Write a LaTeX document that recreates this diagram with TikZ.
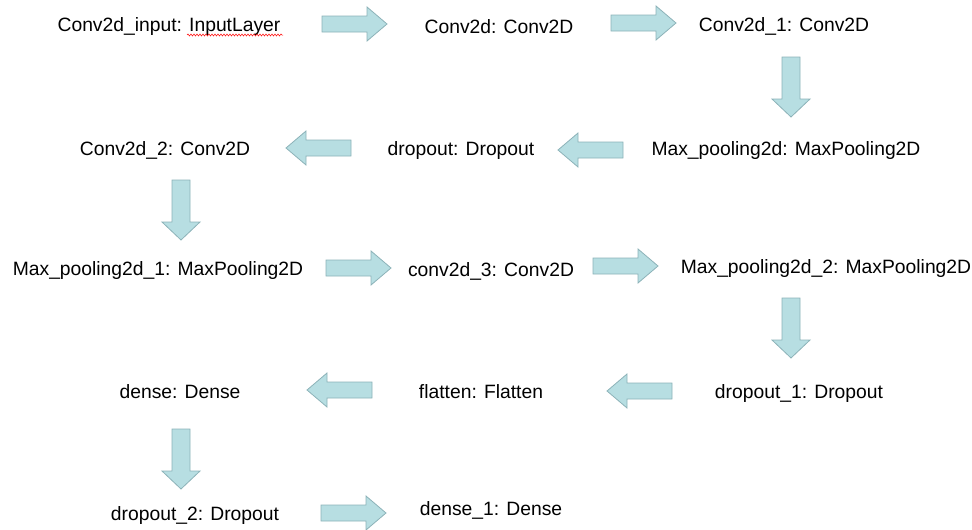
\documentclass[tikz,border=0pt]{standalone}
\usepackage{fontspec}
\setmainfont{Liberation Sans}
\usetikzlibrary{decorations.pathmorphing}
\definecolor{arrfill}{RGB}{183,222,226}
\definecolor{arrdraw}{RGB}{140,178,184}
\begin{document}
\begin{tikzpicture}[x=1pt,y=-1pt,
  lbl/.style={font=\fontsize{19.3}{22}\selectfont, anchor=base, inner sep=0pt},
  blockarrow/.style={fill=arrfill, draw=arrdraw, line width=0.8pt},
  harrow/.pic={\path[blockarrow] (0,-8) -- (45,-8) -- (45,-17) -- (65,0) -- (45,17) -- (45,8) -- (0,8) -- cycle;},
  varrow/.pic={\path[blockarrow] (-9,0) -- (-9,42) -- (-19,42) -- (0,60) -- (19,42) -- (9,42) -- (9,0) -- cycle;},
  squiggle/.style={draw=red, line width=0.5pt, decorate, decoration={snake, amplitude=1pt, segment length=3pt}}
]
\useasboundingbox (0,0) rectangle (972,530);

% texts
\node[lbl] (n1) at (169,31) {Conv2d\_input: InputLayer};
\node[lbl] (n2) at (499,34) {Conv2d: Conv2D};
\node[lbl] (n3) at (784,31) {Conv2d\_1: Conv2D};
\node[lbl] (n4) at (786,155) {Max\_pooling2d: MaxPooling2D};
\node[lbl] (n5) at (461,155) {dropout: Dropout};
\node[lbl] (n6) at (165,155) {Conv2d\_2: Conv2D};
\node[lbl] (n7) at (158,275) {Max\_pooling2d\_1: MaxPooling2D};
\node[lbl] (n8) at (491,276) {conv2d\_3: Conv2D};
\node[lbl] (n9) at (826,273) {Max\_pooling2d\_2: MaxPooling2D};
\node[lbl] (n10) at (799,398) {dropout\_1: Dropout};
\node[lbl] (n11) at (481,398) {flatten: Flatten};
\node[lbl] (n12) at (180,398) {dense: Dense};
\node[lbl] (n13) at (195,520) {dropout\_2: Dropout};
\node[lbl] (n14) at (491,515) {dense\_1: Dense};

% spell-check underline
\path[squiggle] (187,35) -- (283,35);

% block arrows
\pic (a1) at (322,24) {harrow};
\pic (a2) at (611,23) {harrow};
\pic (a3) at (791,57) {varrow};
\pic[xscale=-1] (a4) at (623,150) {harrow};
\pic[xscale=-1] (a5) at (351,148) {harrow};
\pic (a6) at (181,180) {varrow};
\pic (a7) at (326,268) {harrow};
\pic (a8) at (593,266) {harrow};
\pic (a9) at (791,298) {varrow};
\pic[xscale=-1] (a10) at (672,391) {harrow};
\pic[xscale=-1] (a11) at (372,390) {harrow};
\pic (a12) at (181,429) {varrow};
\pic (a13) at (321,513) {harrow};
\end{tikzpicture}
\end{document}
